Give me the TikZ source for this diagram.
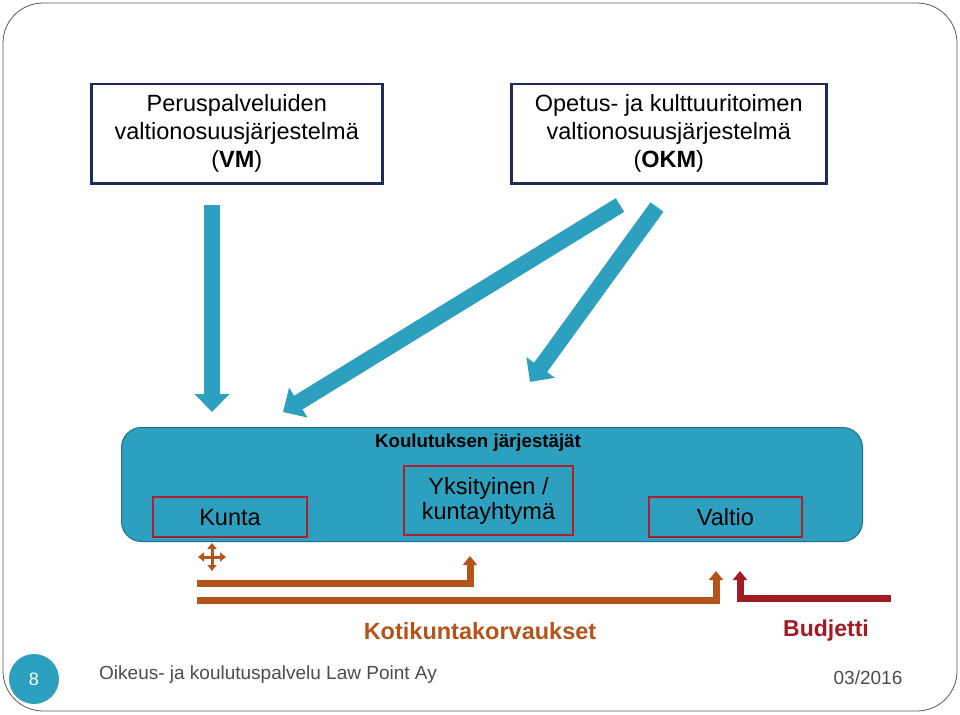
\documentclass[tikz,border=0pt]{standalone}
\usepackage{fontspec}
\setmainfont{Liberation Sans}
\usetikzlibrary{arrows.meta}
\definecolor{tblue}{HTML}{2EA0BF}
\definecolor{tdark}{HTML}{1E6F87}
\definecolor{navy}{HTML}{1F2A5A}
\definecolor{redb}{HTML}{B0202A}
\definecolor{orng}{HTML}{B5541A}
\definecolor{budj}{HTML}{A01B24}
\begin{document}
\begin{tikzpicture}[x=1pt,y=-1pt,
  topbox/.style={draw=navy,line width=2.5pt,fill=white,font=\fontsize{23.5}{28}\selectfont,align=center,anchor=north west,inner sep=1pt},
  redbox/.style={draw=redb,line width=2pt,font=\fontsize{23.5}{25}\selectfont,align=center,anchor=north west,inner sep=1pt},
  bigarrow/.style={color=tblue,line width=16pt,-{Triangle[width=34pt,length=18pt]}},
  barrow/.style={line width=7pt,-{Triangle[width=14pt,length=9pt]}}]
\useasboundingbox (0,0) rectangle (960,714);
\draw[gray!70!black,line width=0.8pt,rounded corners=40pt] (3,3) rectangle (957,711);
\node[topbox,minimum width=291pt,minimum height=99pt] (vm) at (90,83) {Peruspalveluiden\\valtionosuusjärjestelmä\\(\textbf{VM})};
\node[topbox,minimum width=315pt,minimum height=99pt] (okm) at (510,83) {Opetus- ja kulttuuritoimen\\valtionosuusjärjestelmä\\(\textbf{OKM})};
\node[draw=tdark,fill=tblue,rounded corners=20pt,line width=1pt,minimum width=741pt,minimum height=114pt,anchor=north west] (org) at (121,427) {};
\node[font=\bfseries\fontsize{18.7}{20}\selectfont] (kj) at (478,443) {Koulutuksen järjestäjät};
\node[redbox,minimum width=154pt,minimum height=40pt,text depth=-6pt] (kunta) at (152,496) {Kunta};
\node[redbox,minimum width=169pt,minimum height=69pt] (yks) at (403,465) {Yksityinen /\\kuntayhtymä};
\node[redbox,minimum width=153pt,minimum height=40pt,text depth=-6pt] (valtio) at (648,496) {Valtio};
\coordinate (a1s) at (212,205); \coordinate (a1e) at (212,412);
\coordinate (a2s) at (620,205); \coordinate (a2e) at (283,412);
\coordinate (a3s) at (657,207); \coordinate (a3e) at (530,382);
\draw[bigarrow] (a1s) -- (a1e);
\draw[bigarrow] (a2s) -- (a2e);
\draw[bigarrow] (a3s) -- (a3e);
\coordinate (c) at (212,557);
\draw[orng,line width=3pt,{Triangle[width=9pt,length=6pt]}-{Triangle[width=9pt,length=6pt]}] (198,557) -- (226,557);
\draw[orng,line width=3pt,{Triangle[width=9pt,length=6pt]}-{Triangle[width=9pt,length=6pt]}] (212,543) -- (212,571);
\coordinate (o1s) at (197,583); \coordinate (o1t) at (470,556);
\coordinate (o2s) at (197,600); \coordinate (o2t) at (716,571);
\coordinate (r1s) at (891,598); \coordinate (r1t) at (740,571);
\draw[barrow,orng] (o1s) -| (o1t);
\draw[barrow,orng] (o2s) -| (o2t);
\draw[barrow,budj] (r1s) -| (r1t);
\node[orng,font=\bfseries\fontsize{23.5}{25}\selectfont] (kk) at (480,631) {Kotikuntakorvaukset};
\node[budj,font=\bfseries\fontsize{23}{25}\selectfont] (bu) at (826,631) {Budjetti};
\node[circle,fill=tblue,minimum size=50pt,text=white,font=\fontsize{18}{20}\selectfont] (num) at (34,679) {8};
\node[gray!60!black,font=\fontsize{19}{21}\selectfont] (ft) at (268,675) {Oikeus- ja koulutuspalvelu Law Point Ay};
\node[gray!60!black,font=\fontsize{19}{21}\selectfont] (dt) at (868,678) {03/2016};
\end{tikzpicture}
\end{document}
